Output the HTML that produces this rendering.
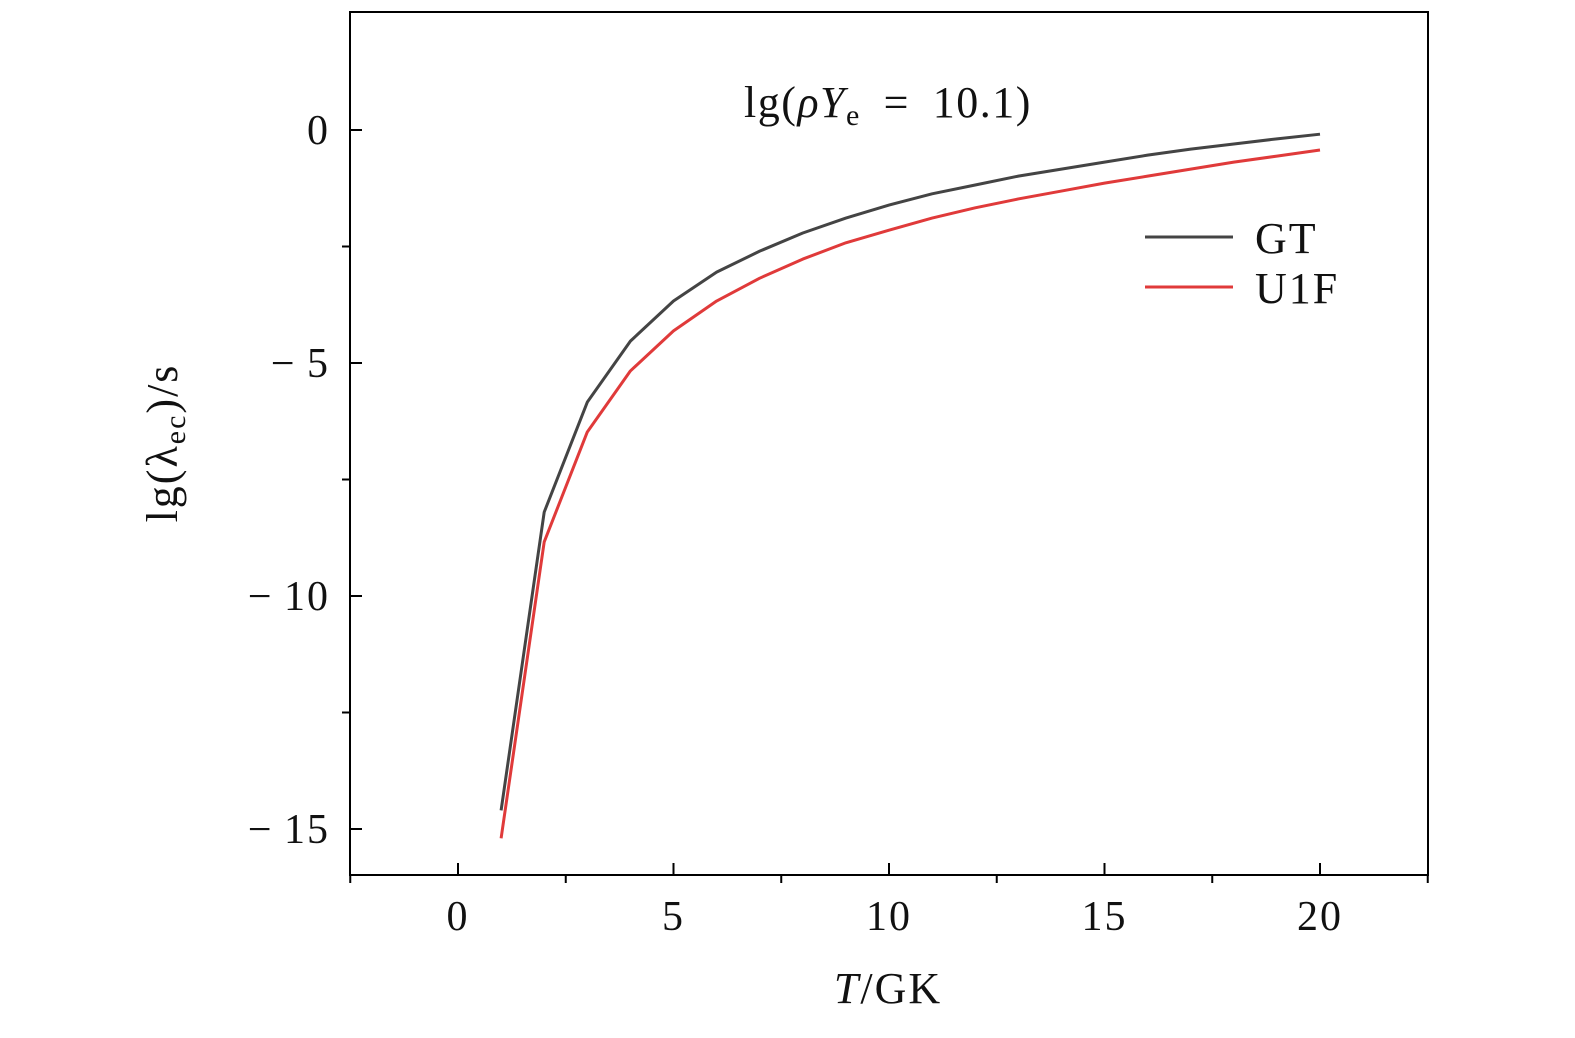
<!DOCTYPE html>
<html><head><meta charset="utf-8"><style>
html,body{margin:0;padding:0;background:#fff;}
svg text{font-family:"Liberation Serif",serif;fill:#111;}
</style></head><body>
<svg id="chart" width="1575" height="1033" xmlns="http://www.w3.org/2000/svg"></svg>
<script>
const temps=[1,2,3,4,5,6,7,8,9,10,11,12,13,14,15,16,17,18,19,20];
const gtValues=[-14.6,-8.2,-5.84,-4.53,-3.67,-3.05,-2.6,-2.21,-1.89,-1.61,-1.37,-1.18,-0.99,-0.84,-0.69,-0.54,-0.41,-0.30,-0.19,-0.09];
const u1fValues=[-15.2,-8.84,-6.48,-5.17,-4.31,-3.67,-3.18,-2.77,-2.42,-2.15,-1.89,-1.67,-1.48,-1.31,-1.14,-0.99,-0.84,-0.69,-0.56,-0.43];
const xTicks=[0,5,10,15,20];
const xMinor=[-2.5,2.5,7.5,12.5,17.5,22.5];
const yTicks=[0,-5,-10,-15];
const yMinor=[-2.5,-7.5,-12.5];
const NS="http://www.w3.org/2000/svg";
const svg=document.getElementById('chart');
const L=350,R=1428,T=12,B=875;
const xs=v=>458+(v-0)*(1320-458)/20;
const ys=v=>130+(0-v)*(829-130)/15;
function mk(tag,attrs,parent){const e=document.createElementNS(NS,tag);for(const k in attrs)e.setAttribute(k,attrs[k]);(parent||svg).appendChild(e);return e;}
const frame=mk('rect',{x:L,y:T,width:R-L,height:B-T,fill:'none',stroke:'#000','stroke-width':2});


xTicks.forEach(v=>{
 const t=mk('line',{x1:xs(v),x2:xs(v),y1:B,y2:B-12,stroke:'#000','stroke-width':2});
 
 
 const lb=mk('text',{x:xs(v),y:930,'text-anchor':'middle','font-size':42,'letter-spacing':2});
 lb.textContent=v;
 
 
});
xMinor.forEach(v=>{
 const t=mk('line',{x1:xs(v),x2:xs(v),y1:B,y2:B+8,stroke:'#000','stroke-width':2});
 
 
});
yTicks.forEach(v=>{
 const t=mk('line',{x1:L,x2:L+12,y1:ys(v),y2:ys(v),stroke:'#000','stroke-width':2});
 
 
 const lb=mk('text',{x:330,y:ys(v)+14,'text-anchor':'end','font-size':42,'letter-spacing':2});
 lb.textContent=v<0?'\u2212\u2009'+Math.abs(v):v;
 
 
});
yMinor.forEach(v=>{
 const t=mk('line',{x1:L,x2:L-8,y1:ys(v),y2:ys(v),stroke:'#000','stroke-width':2});
 
 
});
function series(vals,color,name){
 const p=mk('polyline',{points:temps.map((t,i)=>xs(t)+','+ys(vals[i])).join(' '),fill:'none',stroke:color,'stroke-width':3,'stroke-linejoin':'round'});
 
 
}
series(gtValues,'#444','gt-line');
series(u1fValues,'#e03a3a','u1f-line');
const lg=mk('g',{});


const l1=mk('line',{x1:1145,x2:1233,y1:237,y2:237,stroke:'#444','stroke-width':3},lg);


const t1=mk('text',{x:1255,y:253,'font-size':44,'letter-spacing':2},lg);t1.textContent='GT';


const l2=mk('line',{x1:1145,x2:1233,y1:287,y2:287,stroke:'#e03a3a','stroke-width':3},lg);


const t2=mk('text',{x:1255,y:303,'font-size':44,'letter-spacing':2},lg);t2.textContent='U1F';


const ann=mk('text',{x:888,y:117,'text-anchor':'middle','font-size':44,'letter-spacing':1.5});
ann.innerHTML='lg(<tspan font-style="italic">ρY</tspan><tspan font-size="30" dy="8">e</tspan><tspan dy="-8"> \u2009=\u2009 10.1)</tspan>';


const xt=mk('text',{x:888,y:1003,'text-anchor':'middle','font-size':44,'letter-spacing':2});
xt.innerHTML='<tspan font-style="italic">T</tspan>/GK';


const yt=mk('text',{x:0,y:0,'text-anchor':'middle','font-size':44,'letter-spacing':2,transform:'translate(177,443) rotate(-90)'});
yt.innerHTML='lg(λ<tspan font-size="30" dy="8">ec</tspan><tspan dy="-8">)/s</tspan>';


</script>
</body></html>
